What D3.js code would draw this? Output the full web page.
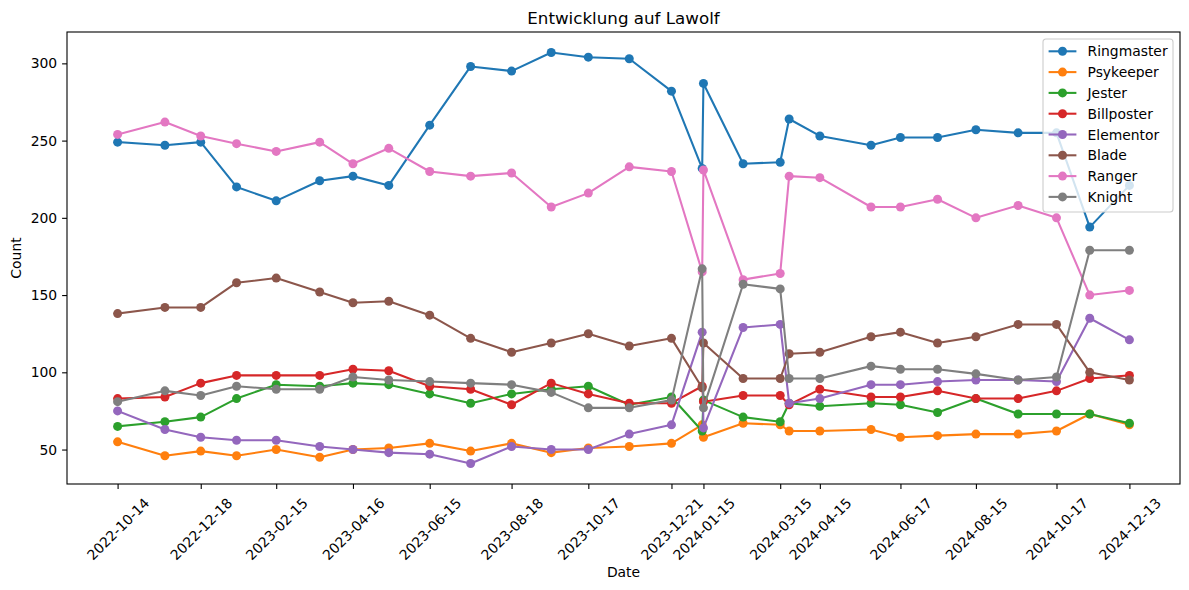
<!DOCTYPE html>
<html>
<head>
<meta charset="utf-8">
<title>Entwicklung auf Lawolf</title>
<script src="https://cdn.jsdelivr.net/npm/d3@7"></script>
<style>
  body { margin: 0; background: #fff; }
  svg { display: block; font-family: "DejaVu Sans", sans-serif; }
</style>
</head>
<body>
<svg id="chart"></svg>
<script>
// Dates of each snapshot
const dates = [
  '2022-10-14', '2022-11-20', '2022-12-18', '2023-01-15', '2023-02-15', '2023-03-21',
  '2023-04-16', '2023-05-14', '2023-06-15', '2023-07-17', '2023-08-18', '2023-09-18',
  '2023-10-17', '2023-11-18', '2023-12-21', '2024-01-14', '2024-01-15', '2024-02-15',
  '2024-03-15', '2024-03-22', '2024-04-15', '2024-05-25', '2024-06-17', '2024-07-16',
  '2024-08-15', '2024-09-17', '2024-10-17', '2024-11-12', '2024-12-13'
];

const classNames = ['Ringmaster', 'Psykeeper', 'Jester', 'Billposter', 'Elementor', 'Blade', 'Ranger', 'Knight'];

const ringmaster = [249, 247, 249, 220, 211, 224, 227, 221, 260, 298, 295, 307, 304, 303, 282, 232, 287, 235, 236, 264, 253, 247, 252, 252, 257, 255, 255, 194, 221];
const psykeeper = [55, 46, 49, 46, 50, 45, 50, 51, 54, 49, 54, 48, 51, 52, 54, 66, 58, 67, 66, 62, 62, 63, 58, 59, 60, 60, 62, 73, 66];
const jester = [65, 68, 71, 83, 92, 91, 93, 92, 86, 80, 86, 89, 91, 79, 84, 62, 82, 71, 68, 80, 78, 80, 79, 74, 83, 73, 73, 73, 67];
const billposter = [83, 84, 93, 98, 98, 98, 102, 101, 91, 89, 79, 93, 86, 80, 80, 91, 81, 85, 85, 79, 89, 84, 84, 88, 83, 83, 88, 96, 98];
const elementor = [75, 63, 58, 56, 56, 52, 50, 48, 47, 41, 52, 50, 50, 60, 66, 126, 64, 129, 131, 80, 83, 92, 92, 94, 95, 95, 94, 135, 121];
const blade = [138, 142, 142, 158, 161, 152, 145, 146, 137, 122, 113, 119, 125, 117, 122, 90, 119, 96, 96, 112, 113, 123, 126, 119, 123, 131, 131, 100, 95];
const ranger = [254, 262, 253, 248, 243, 249, 235, 245, 230, 227, 229, 207, 216, 233, 230, 165, 231, 160, 164, 227, 226, 207, 207, 212, 200, 208, 200, 150, 153];
const knight = [81, 88, 85, 91, 89, 89, 97, 95, 94, 93, 92, 87, 77, 77, 82, 167, 77, 157, 154, 96, 96, 104, 102, 102, 99, 95, 97, 179, 179];

// Every other date gets a label on the x-axis
const xTickDates = dates.filter((d, i) => i % 2 === 0);
const yTicks = [50, 100, 150, 200, 250, 300];

const colors = ['#1f77b4', '#ff7f0e', '#2ca02c', '#d62728', '#9467bd', '#8c564b', '#e377c2', '#7f7f7f'];

// Set dimensions and margins
const width = 1189;
const height = 590;
const margin = { top: 32, right: 9, bottom: 106, left: 67 };
const innerW = width - margin.left - margin.right;
const innerH = height - margin.top - margin.bottom;

const parseDate = d3.timeParse('%Y-%m-%d');
const formatDate = d3.timeFormat('%Y-%m-%d');
const dateValues = dates.map(parseDate);

const series = [ringmaster, psykeeper, jester, billposter, elementor, blade, ranger, knight]
  .map((values, i) => ({
    name: classNames[i],
    color: colors[i],
    points: values.map((v, j) => ({ date: dateValues[j], value: v }))
  }));

const svg = d3.select('#chart')
  .attr('width', width)
  .attr('height', height);

svg.append('rect')
  .attr('width', width)
  .attr('height', height)
  .attr('fill', '#fff');

const g = svg.append('g')
  .attr('transform', `translate(${margin.left},${margin.top})`);

// Scales with 5% padding on both sides, like matplotlib autoscaling
const xExt = d3.extent(dateValues);
const xPad = (xExt[1] - xExt[0]) * 0.05;
const x = d3.scaleTime()
  .domain([new Date(+xExt[0] - xPad), new Date(+xExt[1] + xPad)])
  .range([0, innerW]);

const allValues = series.flatMap(s => s.points.map(p => p.value));
const yMin = d3.min(allValues);
const yMax = d3.max(allValues);
const yPad = (yMax - yMin) * 0.05;
const y = d3.scaleLinear()
  .domain([yMin - yPad, yMax + yPad])
  .range([innerH, 0]);

// Add the x-axis
const xAxis = g.append('g')
  .attr('transform', `translate(0,${innerH})`)
  .call(d3.axisBottom(x)
    .tickValues(xTickDates.map(parseDate))
    .tickFormat(formatDate)
    .tickSizeInner(4.9)
    .tickSizeOuter(0)
    .tickPadding(4.9));

xAxis.select('.domain').remove();
xAxis.selectAll('line').attr('stroke', '#000').attr('stroke-width', 1.1);
xAxis.selectAll('text')
  .attr('font-family', 'DejaVu Sans')
  .attr('font-size', 13.9)
  .attr('fill', '#000')
  .attr('text-anchor', 'middle')
  .attr('dominant-baseline', 'central')
  .attr('y', 0)
  .attr('dy', 0)
  .attr('transform', 'translate(0,45) rotate(-45)');

// Add the y-axis
const yAxis = g.append('g')
  .call(d3.axisLeft(y)
    .tickValues(yTicks)
    .tickSizeInner(4.9)
    .tickSizeOuter(0)
    .tickPadding(4.9));

yAxis.select('.domain').remove();
yAxis.selectAll('line').attr('stroke', '#000').attr('stroke-width', 1.1);
yAxis.selectAll('text')
  .attr('font-family', 'DejaVu Sans')
  .attr('font-size', 13.9)
  .attr('fill', '#000');

// Lines and markers, one series after another
const line = d3.line()
  .x(d => x(d.date))
  .y(d => y(d.value));

const plot = g.append('g');

series.forEach(s => {
  plot.append('path')
    .datum(s.points)
    .attr('fill', 'none')
    .attr('stroke', s.color)
    .attr('stroke-width', 2.08)
    .attr('stroke-linejoin', 'round')
    .attr('stroke-linecap', 'square')
    .attr('d', line);

  plot.selectAll(null)
    .data(s.points)
    .enter().append('circle')
    .attr('cx', d => x(d.date))
    .attr('cy', d => y(d.value))
    .attr('r', 4.5)
    .attr('fill', s.color);
});

// Frame
g.append('rect')
  .attr('width', innerW)
  .attr('height', innerH)
  .attr('fill', 'none')
  .attr('stroke', '#000')
  .attr('stroke-width', 1.1);

// Title and axis labels
svg.append('text')
  .attr('x', margin.left + innerW / 2)
  .attr('y', 24)
  .attr('text-anchor', 'middle')
  .attr('font-size', 16.7)
  .text('Entwicklung auf Lawolf');

svg.append('text')
  .attr('x', margin.left + innerW / 2)
  .attr('y', 577)
  .attr('text-anchor', 'middle')
  .attr('font-size', 13.9)
  .text('Date');

svg.append('text')
  .attr('transform', `translate(21,${margin.top + innerH / 2}) rotate(-90)`)
  .attr('text-anchor', 'middle')
  .attr('font-size', 13.9)
  .text('Count');

// Add legend
const legendW = 130;
const rowH = 20.8;
const legend = g.append('g')
  .attr('transform', `translate(${innerW - 7 - legendW},7)`);

legend.append('rect')
  .attr('width', legendW)
  .attr('height', 173)
  .attr('rx', 3)
  .attr('fill', 'rgba(255,255,255,0.8)')
  .attr('stroke', '#cccccc')
  .attr('stroke-width', 1.1);

const rows = legend.selectAll('g.row')
  .data(series)
  .enter().append('g')
  .attr('class', 'row')
  .attr('transform', (d, i) => `translate(0,${12.3 + i * rowH})`);

rows.append('line')
  .attr('x1', 5.6)
  .attr('x2', 33.4)
  .attr('stroke', d => d.color)
  .attr('stroke-width', 2.08);

rows.append('circle')
  .attr('cx', 19.5)
  .attr('r', 4.5)
  .attr('fill', d => d.color);

rows.append('text')
  .attr('x', 44.5)
  .attr('dy', '0.36em')
  .attr('font-size', 13.9)
  .text(d => d.name);
</script>
</body>
</html>
